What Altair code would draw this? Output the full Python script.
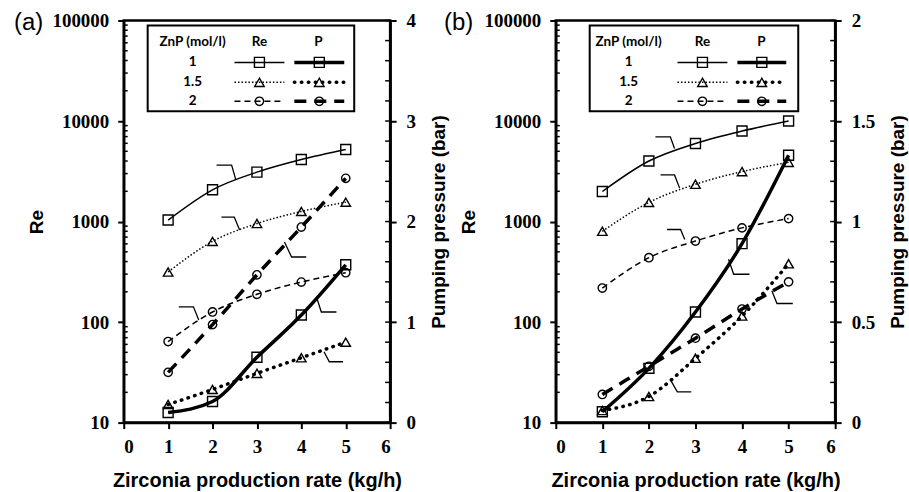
import altair as alt
import pandas as pd

# ---------------- data ----------------
X_RATE = [1, 2, 3, 4, 5]
ZNP = ["1", "1.5", "2"]

# panel (a)
A_RE_1 = [1035, 2070, 3100, 4140, 5210]
A_RE_15 = [315, 635, 955, 1260, 1560]
A_RE_2 = [64, 126, 189, 250, 310]
A_P_1 = [0.10, 0.21, 0.65, 1.07, 1.57]
A_P_15 = [0.18, 0.33, 0.49, 0.645, 0.80]
A_P_2 = [0.50, 0.975, 1.47, 1.945, 2.43]

# panel (b)
B_RE_1 = [1990, 4000, 5980, 7950, 10000]
B_RE_15 = [800, 1550, 2350, 3140, 3880]
B_RE_2 = [218, 437, 640, 865, 1070]
B_P_1 = [0.054, 0.27, 0.55, 0.89, 1.33]
B_P_15 = [0.06, 0.13, 0.32, 0.53, 0.79]
B_P_2 = [0.14, 0.28, 0.42, 0.565, 0.70]

X_TICKS = [0, 1, 2, 3, 4, 5, 6]
RE_TICKS = [10, 100, 1000, 10000, 100000]
RE_MINOR = [m * 10 ** k for k in range(1, 5) for m in range(2, 10)]
A_P_TICKS = [0, 1, 2, 3, 4]
A_P_MINOR = [0.2, 0.4, 0.6, 0.8, 1.2, 1.4, 1.6, 1.8, 2.2, 2.4, 2.6, 2.8, 3.2, 3.4, 3.6, 3.8]
B_P_TICKS = [0, 0.5, 1, 1.5, 2]
B_P_MINOR = [0.1, 0.2, 0.3, 0.4, 0.6, 0.7, 0.8, 0.9, 1.1, 1.2, 1.3, 1.4, 1.6, 1.7, 1.8, 1.9]

# leader annotations (x, Re-axis value)
A_LEAD_X = [[2.09, 2.43, 2.52], [2.20, 2.49, 2.61], [3.62, 3.78, 4.11],
            [1.24, 1.57, 1.69], [4.34, 4.45, 4.79], [4.51, 4.63, 4.94]]
A_LEAD_Y = [[3640, 3640, 2640], [1109, 1109, 824], [627, 444, 444],
            [142, 142, 105], [178, 126, 126], [50.7, 40.3, 40.3]]
B_LEAD_X = [[2.14, 2.46, 2.55], [2.25, 2.55, 2.66], [2.39, 2.68, 2.77],
            [3.71, 3.82, 4.16], [2.46, 2.61, 2.91], [4.64, 4.75, 5.09]]
B_LEAD_Y = [[6970, 6970, 5340], [2910, 2910, 2150], [834, 834, 664],
            [421, 299, 299], [26.8, 20.2, 20.2], [205, 153, 153]]

# ---------------- styles ----------------
SHAPES = {"1": ("square", 100), "1.5": ("triangle-up", 90), "2": ("circle", 70)}
RE_DASH = {"1": None, "1.5": [1.5, 2], "2": [6, 4]}
P_DASH = {"1": None, "1.5": [0.5, 6.5], "2": [12, 8]}
THIN, THICK = 1.5, 3.5
SANS = "Liberation Sans"
SERIF = "Liberation Serif"

XENC = alt.X("x:Q", scale=alt.Scale(domain=[0, 6], nice=False, zero=False),
             axis=alt.Axis(values=X_TICKS, format="d", titleFontSize=20,
                           title="Zirconia production rate (kg/h)"))


def re_y():
    return alt.Y("re:Q", scale=alt.Scale(type="log", domain=[10, 100000], nice=False),
                 axis=alt.Axis(values=RE_TICKS, format="d", title="Re", orient="left",
                               titlePadding=5))


def p_y(pmax, pticks):
    return alt.Y("p:Q", scale=alt.Scale(domain=[0, pmax], nice=False, zero=True),
                 axis=alt.Axis(values=pticks, format="~g", title="Pumping pressure (bar)",
                               orient="right", titleAngle=270, titleBaseline="top",
                               labelPadding=10, titlePadding=14))


def one_row():
    return alt.Data(values=[{"k": 1}])


def series_layers(yvals, field, yenc, znp, thick):
    df = pd.DataFrame({"x": X_RATE, field: yvals})
    dash = P_DASH[znp] if thick else RE_DASH[znp]
    mk = dict(color="black", strokeWidth=THICK if thick else THIN, interpolate="monotone")
    if dash:
        mk["strokeDash"] = dash
    if thick and znp == "1.5":
        mk["strokeCap"] = "round"
    line = alt.Chart(df).mark_line(**mk).encode(x=XENC, y=yenc)
    shp, sz = SHAPES[znp]
    pts = alt.Chart(df).mark_point(shape=shp, size=sz, filled=False, color="black",
                                   strokeWidth=1.4, opacity=1).encode(x=XENC, y=yenc)
    return [line, pts]


def legend_layers(box, cols, re_rng, p_rng):
    layers = []
    layers.append(alt.Chart(one_row()).mark_rect(fill="white", stroke="black", strokeWidth=2).encode(
        x=alt.value(box[0]), x2=alt.value(box[1]), y=alt.value(5), y2=alt.value(91)))
    rows_y = [42, 62, 81]
    for txt, cx in zip(["ZnP (mol/l)", "Re", "P"], cols):
        layers.append(alt.Chart(one_row()).mark_text(text=txt, font="Lato", fontWeight="bold",
                                                    fontSize=13.5, align="center", baseline="middle",
                                                    color="black").encode(
            x=alt.value(cx), y=alt.value(22)))
    for znp, ry in zip(ZNP, rows_y):
        layers.append(alt.Chart(one_row()).mark_text(text=znp, font="Lato", fontWeight="bold",
                                                    fontSize=13.5, align="center", baseline="middle",
                                                    color="black").encode(
            x=alt.value(cols[0]), y=alt.value(ry)))
        shp, sz = SHAPES[znp]
        for rng, thick in ((re_rng, False), (p_rng, True)):
            dash = P_DASH[znp] if thick else RE_DASH[znp]
            mk = dict(color="black", strokeWidth=THICK if thick else THIN)
            if dash:
                mk["strokeDash"] = dash
            if thick and znp == "1.5":
                mk["strokeCap"] = "round"
            layers.append(alt.Chart(one_row()).mark_rule(**mk).encode(
                x=alt.value(rng[0]), x2=alt.value(rng[1]), y=alt.value(ry)))
            layers.append(alt.Chart(one_row()).mark_point(shape=shp, size=sz, filled=False,
                                                         color="black", strokeWidth=1.4,
                                                         opacity=1).encode(
                x=alt.value((rng[0] + rng[1]) / 2), y=alt.value(ry)))
    return layers


def panel(res, ps, pmax, pticks, pminor, lead_x, lead_y, width, height, box, cols,
          re_rng, p_rng, label, label_x):
    yr = re_y()
    yp = p_y(pmax, pticks)
    re_layers, p_layers = [], []
    rows = []
    for i, (lx, ly) in enumerate(zip(lead_x, lead_y)):
        for j, (a, b) in enumerate(zip(lx, ly)):
            rows.append({"id": i, "o": j, "x": a, "re": b})
    lead_df = pd.DataFrame(rows)
    re_layers.append(alt.Chart(lead_df).mark_line(color="black", strokeWidth=1.3).encode(
        x=XENC, y=yr, detail="id:N", order="o:Q"))
    re_layers.append(alt.Chart(pd.DataFrame({"re": RE_MINOR})).mark_rule(
        color="black", strokeWidth=1.5).encode(y=yr, x=alt.value(0), x2=alt.value(4)))
    for znp, vals in zip(ZNP, res):
        re_layers += series_layers(vals, "re", yr, znp, False)
    p_layers.append(alt.Chart(pd.DataFrame({"p": pminor + pticks})).mark_rule(
        color="black", strokeWidth=1.5).encode(y=yp, x=alt.value(width - 5), x2=alt.value(width)))
    for znp, vals in zip(ZNP, ps):
        p_layers += series_layers(vals, "p", yp, znp, True)
    deco = legend_layers(box, cols, re_rng, p_rng)
    deco.append(alt.Chart(one_row()).mark_text(text=label, font=SANS, fontSize=24,
                                               align="left", baseline="middle",
                                               color="black").encode(
        x=alt.value(label_x), y=alt.value(3)))
    g1 = alt.layer(*(re_layers + deco))
    g2 = alt.layer(*p_layers)
    return alt.layer(g1, g2).resolve_scale(y="independent").properties(width=width, height=height)


pa = panel([A_RE_1, A_RE_15, A_RE_2], [A_P_1, A_P_15, A_P_2], 4, A_P_TICKS, A_P_MINOR,
           A_LEAD_X, A_LEAD_Y, 267, 403, (24, 231), (69, 136, 195), (111, 161), (171, 221),
           "(a)", -110)
pb = panel([B_RE_1, B_RE_15, B_RE_2], [B_P_1, B_P_15, B_P_2], 2, B_P_TICKS, B_P_MINOR,
           B_LEAD_X, B_LEAD_Y, 280, 403, (34, 243), (73, 147, 206), (122, 172), (182, 231),
           "(b)", -112)

chart = alt.hconcat(pa, pb, spacing=166, bounds="flush").properties(
    padding={"left": 12, "top": 9, "right": 0, "bottom": 0}
).configure_view(stroke="black", strokeWidth=2.5).configure_axis(
    labelFont=SERIF, labelFontWeight="bold", labelFontSize=19, labelColor="black",
    titleFont=SANS, titleFontWeight="bold", titleFontSize=19, titleColor="black",
    domainColor="black", domainWidth=2.5, tickColor="black", tickWidth=2, tickSize=6,
    labelPadding=9, grid=False
).configure_axisX(titlePadding=14)

chart.save("out.html", embed_options={"renderer": "svg", "actions": False})
